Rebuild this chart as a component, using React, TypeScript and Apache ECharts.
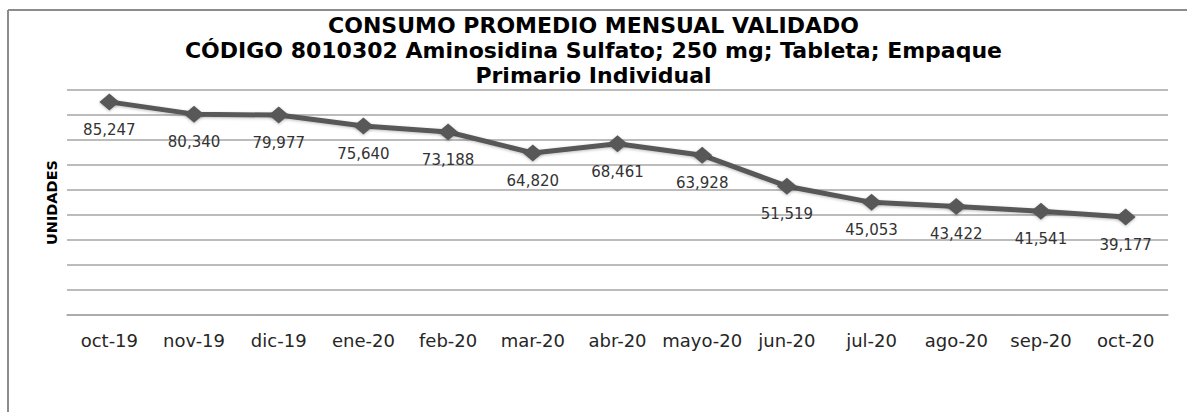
import React, { useEffect, useRef } from "react";
import * as echarts from "echarts";

const categories = [
  "oct-19", "nov-19", "dic-19", "ene-20", "feb-20", "mar-20", "abr-20",
  "mayo-20", "jun-20", "jul-20", "ago-20", "sep-20", "oct-20",
];
const consumo = [
  85247, 80340, 79977, 75640, 73188, 64820, 68461, 63928, 51519, 45053,
  43422, 41541, 39177,
];
const titleLines = [
  "CONSUMO PROMEDIO MENSUAL VALIDADO",
  "CÓDIGO 8010302 Aminosidina Sulfato; 250 mg; Tableta; Empaque",
  "Primario Individual",
];
const yAxisName = "UNIDADES";

const fmt = (v: number) => v.toLocaleString("en-US");

export default function App() {
  const ref = useRef<HTMLDivElement>(null);
  useEffect(() => {
    if (!ref.current) return;
    const chart = echarts.init(ref.current, null, { renderer: "svg" });
    chart.setOption({
      animation: false,
      backgroundColor: "#ffffff",
      title: {
        text: titleLines.join("\n"),
        left: "center",
        top: 8,
        textStyle: {
          fontFamily: "DejaVu Sans",
          fontWeight: "bold",
          fontSize: 22,
          lineHeight: 25,
          color: "#000000",
        },
      },
      graphic: [
        {
          type: "line",
          shape: { x1: 8, y1: 10, x2: 1187, y2: 10 },
          style: { stroke: "#8c8c8c", lineWidth: 2 },
        },
        {
          type: "line",
          shape: { x1: 8, y1: 10, x2: 8, y2: 412 },
          style: { stroke: "#8c8c8c", lineWidth: 2 },
        },
      ],
      grid: { left: 67, right: 19, top: 90, bottom: 97 },
      xAxis: {
        type: "category",
        data: categories,
        boundaryGap: true,
        axisLine: { show: true, lineStyle: { color: "#a6a6a6", width: 1.5 } },
        axisTick: { show: false },
        axisLabel: {
          fontFamily: "DejaVu Sans",
          fontSize: 18,
          color: "#262626",
          margin: 16,
          interval: 0,
        },
      },
      yAxis: {
        type: "value",
        min: 0,
        max: 90000,
        interval: 10000,
        name: yAxisName,
        nameLocation: "middle",
        nameGap: 8,
        nameTextStyle: {
          fontFamily: "DejaVu Sans",
          fontWeight: "bold",
          fontSize: 14.5,
          color: "#000000",
        },
        axisLine: { show: false },
        axisTick: { show: false },
        axisLabel: { show: false },
        splitLine: { lineStyle: { color: "#a6a6a6", width: 1.5 } },
      },
      series: [
        {
          type: "line",
          data: consumo,
          symbol: "diamond",
          symbolSize: [20, 17],
          lineStyle: { color: "#595959", width: 5, shadowColor: "rgba(0,0,0,0.25)", shadowBlur: 3, shadowOffsetY: 1 },
          itemStyle: { color: "#595959", shadowColor: "rgba(0,0,0,0.25)", shadowBlur: 3, shadowOffsetY: 1 },
          label: {
            show: true,
            position: "bottom",
            distance: 12,
            fontFamily: "DejaVu Sans",
            fontSize: 15,
            color: "#333333",
            formatter: (p: any) => fmt(p.value),
          },
        },
      ],
    });
    return () => chart.dispose();
  }, []);
  return (
    <div
      ref={ref}
      style={{ position: "absolute", left: 0, top: 0, width: 1187, height: 412 }}
    />
  );
}
